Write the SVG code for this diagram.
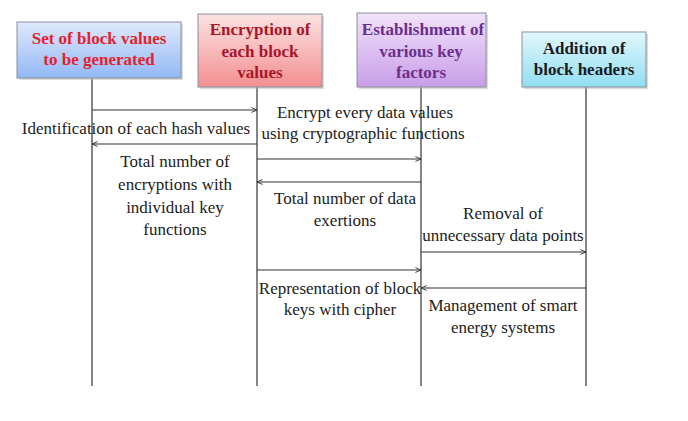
<svg xmlns="http://www.w3.org/2000/svg" width="688" height="421" viewBox="0 0 688 421">
<defs>
<linearGradient id="gBlue" x1="0" y1="0" x2="0" y2="1"><stop offset="0" stop-color="#dfe9fc"/><stop offset="1" stop-color="#93b8f5"/></linearGradient>
<linearGradient id="gRed" x1="0" y1="0" x2="0" y2="1"><stop offset="0" stop-color="#fde3e3"/><stop offset="1" stop-color="#f38f90"/></linearGradient>
<linearGradient id="gPurple" x1="0" y1="0" x2="0" y2="1"><stop offset="0" stop-color="#f1e3fa"/><stop offset="1" stop-color="#c99ee8"/></linearGradient>
<linearGradient id="gCyan" x1="0" y1="0" x2="0" y2="1"><stop offset="0" stop-color="#e2f7fc"/><stop offset="1" stop-color="#90def2"/></linearGradient>
<marker id="arr" viewBox="0 0 10 10" refX="9" refY="5" markerWidth="7" markerHeight="7" orient="auto" markerUnits="userSpaceOnUse">
<path d="M1,1.5 L9,5 L1,8.5" fill="none" stroke="#333" stroke-width="1.3"/>
</marker>
</defs>
<style>
.box{stroke:#8a8f9c;stroke-width:1}
.shadow{fill:#b8b8b8;opacity:0.5}
.bt{font-size:17px;font-weight:bold;text-anchor:middle}
.t{font-size:17px;fill:#222;text-anchor:middle}
.life{stroke:#333;stroke-width:1.2}
.msg{stroke:#333;stroke-width:1.2;fill:none;marker-end:url(#arr)}
</style>
<rect width="688" height="421" fill="#fff"/>
<g id="lifelines">
<line class="life" x1="92" y1="78" x2="92" y2="386"/>
<line class="life" x1="257" y1="87" x2="257" y2="386"/>
<line class="life" x1="421" y1="87" x2="421" y2="386"/>
<line class="life" x1="586" y1="87" x2="586" y2="386"/>
</g>
<g font-family="'Liberation Serif', 'Times New Roman', serif">
<g id="node1">
<rect class="shadow" x="19" y="24" width="164" height="56"/>
<rect class="box" x="17" y="22" width="164" height="56" fill="url(#gBlue)"/>
<text class="bt" x="99" y="44" fill="#e2232e">Set of block values</text>
<text class="bt" x="99" y="65" fill="#e2232e">to be generated</text>
</g>
<g id="node2">
<rect class="shadow" x="200" y="16" width="124" height="73"/>
<rect class="box" x="198" y="14" width="124" height="73" fill="url(#gRed)"/>
<text class="bt" x="260" y="35" fill="#a8152b">Encryption of</text>
<text class="bt" x="260" y="57" fill="#a8152b">each block</text>
<text class="bt" x="260" y="78" fill="#a8152b">values</text>
</g>
<g id="node3">
<rect class="shadow" x="359" y="15" width="129" height="74"/>
<rect class="box" x="357" y="13" width="129" height="74" fill="url(#gPurple)"/>
<text class="bt" x="423" y="35" fill="#6b2e8e">Establishment of</text>
<text class="bt" x="421" y="57" fill="#6b2e8e">various key</text>
<text class="bt" x="421" y="78" fill="#6b2e8e">factors</text>
</g>
<g id="node4">
<rect class="shadow" x="524" y="34" width="124" height="55"/>
<rect class="box" x="522" y="32" width="124" height="55" fill="url(#gCyan)"/>
<text class="bt" x="584" y="54" fill="#1b1b22">Addition of</text>
<text class="bt" x="584" y="75" fill="#1b1b22">block headers</text>
</g>
</g>
<g id="connectors">
<line class="msg" x1="92" y1="110" x2="257" y2="110"/>
<line class="msg" x1="257" y1="144" x2="92" y2="144"/>
<line class="msg" x1="257" y1="159" x2="421" y2="159"/>
<line class="msg" x1="421" y1="182" x2="257" y2="182"/>
<line class="msg" x1="421" y1="252" x2="586" y2="252"/>
<line class="msg" x1="257" y1="270" x2="421" y2="270"/>
<line class="msg" x1="586" y1="288" x2="421" y2="288"/>
</g>
<g id="labels" font-family="'Liberation Serif', 'Times New Roman', serif">
<text class="t" x="136" y="134">Identification of each hash values</text>
<text class="t" x="365" y="118">Encrypt every data values</text>
<text class="t" x="363" y="139">using cryptographic functions</text>
<text class="t" x="175" y="167">Total number of</text>
<text class="t" x="175" y="190">encryptions with</text>
<text class="t" x="175" y="213">individual key</text>
<text class="t" x="175" y="235">functions</text>
<text class="t" x="345" y="204">Total number of data</text>
<text class="t" x="345" y="226">exertions</text>
<text class="t" x="503" y="219">Removal of</text>
<text class="t" x="503" y="241">unnecessary data points</text>
<text class="t" x="340" y="294">Representation of block</text>
<text class="t" x="340" y="315">keys with cipher</text>
<text class="t" x="503" y="311">Management of smart</text>
<text class="t" x="503" y="333">energy systems</text>
</g>
</svg>
